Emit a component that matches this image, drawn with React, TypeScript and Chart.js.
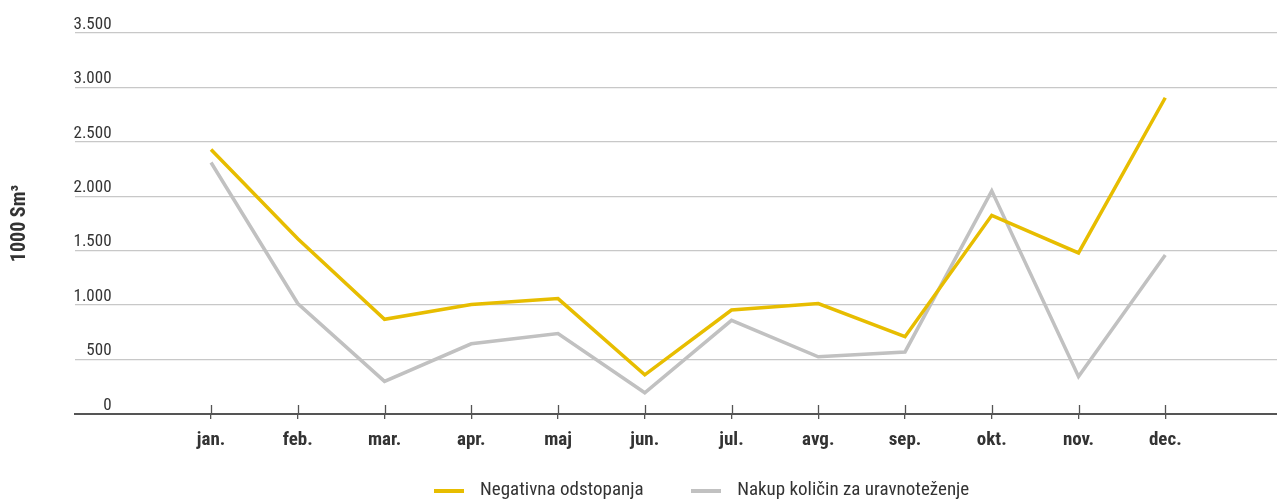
import { useEffect, useRef, useState } from "react";
import { Chart, registerables } from "chart.js";

Chart.register(...registerables);

const months = ["jan.", "feb.", "mar.", "apr.", "maj", "jun.", "jul.", "avg.", "sep.", "okt.", "nov.", "dec."];
const negativnaOdstopanja = [2430, 1610, 870, 1005, 1060, 360, 955, 1015, 710, 1825, 1480, 2905];
const nakupKolicin = [2310, 1015, 300, 645, 740, 195, 860, 525, 570, 2050, 345, 1460];
const yTicks = [0, 500, 1000, 1500, 2000, 2500, 3000, 3500];
const yTickLabels = ["0", "500", "1.000", "1.500", "2.000", "2.500", "3.000", "3.500"];
const seriesNames = ["Negativna odstopanja", "Nakup količin za uravnoteženje"];
const seriesColors = ["#E7BD00", "#C1C1C1"];
const yTitle = "1000 Sm³";

const FONT = "'Roboto Condensed', Roboto, 'DejaVu Sans Condensed', sans-serif";
const TEXT = "#333333";

const innerTicks = {
  id: "innerTicks",
  afterDatasetsDraw(chart: any) {
    const xs = chart.scales.x;
    const bottom = chart.chartArea.bottom;
    const ctx = chart.ctx;
    ctx.save();
    ctx.strokeStyle = "#555555";
    ctx.lineWidth = 1.3;
    months.forEach((_, i) => {
      const px = Math.round(xs.getPixelForValue(i)) + 0.5;
      ctx.beginPath();
      ctx.moveTo(px, bottom - 9);
      ctx.lineTo(px, bottom);
      ctx.stroke();
    });
    ctx.restore();
  },
};

type LegendItem = { text: string; color: string };

export default function App() {
  const ref = useRef<HTMLCanvasElement | null>(null);
  const [legendItems, setLegendItems] = useState<LegendItem[]>([]);

  useEffect(() => {
    document.body.style.margin = "0";
    document.body.style.overflow = "hidden";
    if (!ref.current) return;
    const chart = new Chart(ref.current, {
      type: "line",
      data: {
        datasets: [
          {
            label: seriesNames[0],
            data: negativnaOdstopanja.map((v, i) => ({ x: i, y: v })),
            borderColor: seriesColors[0],
            backgroundColor: seriesColors[0],
            borderWidth: 3.5,
            pointRadius: 0,
            tension: 0,
          },
          {
            label: seriesNames[1],
            data: nakupKolicin.map((v, i) => ({ x: i, y: v })),
            borderColor: seriesColors[1],
            backgroundColor: seriesColors[1],
            borderWidth: 3.5,
            pointRadius: 0,
            tension: 0,
          },
        ],
      },
      options: {
        animation: false,
        responsive: true,
        maintainAspectRatio: false,
        layout: { padding: { top: 33, left: 8, right: 0, bottom: 37.2 } },
        scales: {
          x: {
            type: "linear",
            min: -1.568,
            max: 12.288,
            afterBuildTicks: (axis: any) => {
              axis.ticks = months.map((_, i) => ({ value: i }));
            },
            grid: {
              drawOnChartArea: false,
              drawTicks: true,
              tickLength: 5,
              color: "#555555",
              lineWidth: 1.3,
            },
            border: { display: true, color: "#555555", width: 2 },
            ticks: {
              autoSkip: false,
              maxRotation: 0,
              padding: 10,
              color: TEXT,
              font: { family: FONT, size: 19, weight: "bold", lineHeight: 1.2 },
              callback: (v: any) => months[v as number] ?? "",
            },
          },
          y: {
            min: 0,
            max: 3500,
            afterBuildTicks: (axis: any) => {
              axis.ticks = yTicks.map((v) => ({ value: v }));
            },
            grid: {
              drawTicks: false,
              color: (ctx: any) => (ctx.tick && ctx.tick.value === 0 ? "rgba(0,0,0,0)" : "#C8C8C8"),
              lineWidth: 1.3,
            },
            border: { display: false },
            title: {
              display: true,
              text: yTitle,
              color: TEXT,
              font: { family: FONT, size: 20, weight: "bold", lineHeight: 1.2 },
              padding: { top: 0, bottom: 46 },
            },
            ticks: {
              mirror: true,
              crossAlign: "far",
              padding: -1.5,
              labelOffset: -8.5,
              color: TEXT,
              font: { family: FONT, size: 17 },
              callback: (v: any) => {
                const i = yTicks.indexOf(v as number);
                return i >= 0 ? yTickLabels[i] : "";
              },
            },
          },
        },
        plugins: {
          tooltip: { enabled: false },
          legend: { display: false },
        },
      },
      plugins: [innerTicks],
    } as any);
    const items = Chart.defaults.plugins.legend.labels
      .generateLabels(chart)
      .map((l: any) => ({ text: l.text, color: l.strokeStyle as string }));
    setLegendItems(items);
    return () => chart.destroy();
  }, []);

  return (
    <div style={{ position: "relative", width: 1277, height: 499, overflow: "hidden" }}>
      <canvas ref={ref} />
      <div
        style={{
          position: "absolute",
          left: 434,
          top: 478.7,
          display: "flex",
          alignItems: "flex-start",
          fontFamily: FONT,
          fontSize: 19,
          lineHeight: "19px",
          color: TEXT,
          whiteSpace: "nowrap",
        }}
      >
        {legendItems.map((it, i) => (
          <div key={i} style={{ display: "flex", alignItems: "flex-start", marginLeft: i === 0 ? 0 : 47.6 }}>
            <span
              style={{
                display: "inline-block",
                width: 30,
                height: 4,
                marginTop: 10.3,
                marginRight: 16,
                background: it.color,
              }}
            />
            <span>{it.text}</span>
          </div>
        ))}
      </div>
    </div>
  );
}
